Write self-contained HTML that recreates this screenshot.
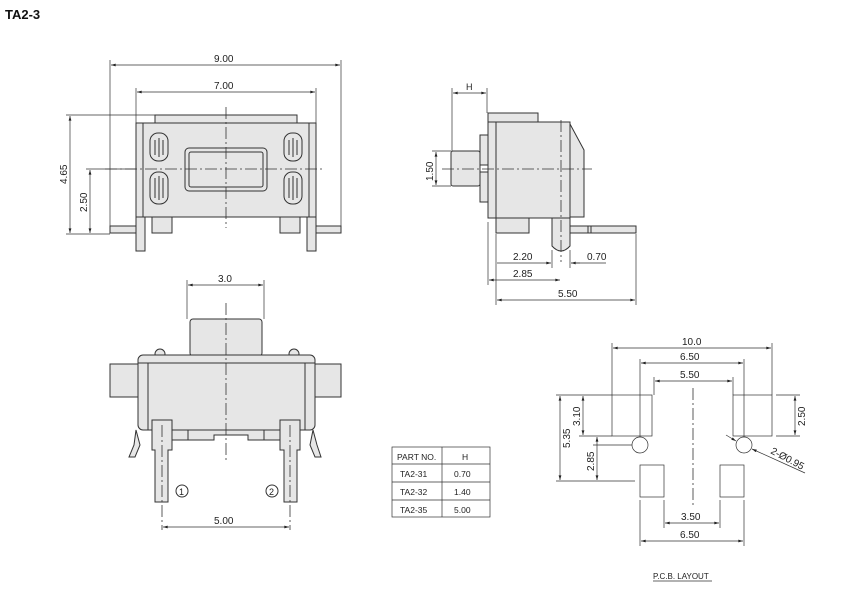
<!DOCTYPE html>
<html><head><meta charset="utf-8"><style>
html,body{margin:0;padding:0;background:#fff;}
svg{display:block;}
text{font-family:"Liberation Sans",sans-serif;font-size:10px;fill:#222;}
</style></head><body>
<svg width="861" height="606" viewBox="0 0 861 606" xmlns="http://www.w3.org/2000/svg">
<defs>
<marker id="a" viewBox="0 0 10 6" refX="10" refY="3" markerWidth="8" markerHeight="4" orient="auto-start-reverse"><path d="M0,0L10,3L0,6z" fill="#222"/></marker>
</defs>
<text x="5" y="19" style="font-size:13px;font-weight:bold;fill:#111">TA2-3</text>

<g stroke="#333" stroke-width="1" fill="#e6e6e6">
<!-- TOP LEFT VIEW -->
<rect x="155" y="115" width="142" height="8"/>
<rect x="136" y="123" width="180" height="94"/>
<line x1="143" y1="123" x2="143" y2="217"/><line x1="309" y1="123" x2="309" y2="217"/>
<rect x="110" y="226" width="27" height="7"/>
<rect x="316" y="226" width="25" height="7"/>
<rect x="136" y="217" width="9" height="34"/>
<rect x="307" y="217" width="9" height="34"/>
<rect x="152" y="217" width="20" height="16"/>
<rect x="280" y="217" width="20" height="16"/>
<rect x="185" y="148" width="82" height="43" rx="4"/>
<rect x="189" y="152" width="74" height="35" rx="2"/>
<rect x="150" y="133" width="18" height="28" rx="8"/>
<rect x="150" y="172" width="18" height="32" rx="8"/>
<rect x="284" y="133" width="18" height="28" rx="8"/>
<rect x="284" y="172" width="18" height="32" rx="8"/>
<path d="M155 140v15M159 138v19M163 140v15M155 178v20M159 176v24M163 178v20M289 140v15M293 138v19M297 140v15M289 178v20M293 176v24M297 178v20" fill="none"/>

<!-- SIDE VIEW -->
<rect x="488" y="113" width="50" height="9"/>
<rect x="488" y="122" width="82" height="96"/>
<line x1="496" y1="122" x2="496" y2="218"/>
<path d="M570 124L584 150V217H570Z"/>
<path d="M480 135h8v30h-8zM480 172h8v30h-8z"/>
<rect x="451" y="151" width="29" height="35" rx="2"/>
<rect x="496" y="218" width="33" height="15"/>
<path d="M552 218V246Q561 256 570 246V218Z"/>
<rect x="570" y="226" width="66" height="7"/>
<line x1="588" y1="226" x2="588" y2="233"/><line x1="591" y1="226" x2="591" y2="233"/>

<!-- FRONT BOTTOM VIEW -->
<rect x="190" y="319" width="72" height="37" rx="3"/>
<circle cx="160" cy="354" r="5"/><circle cx="294" cy="354" r="5"/>
<rect x="110" y="364" width="30" height="33"/>
<rect x="314" y="364" width="27" height="33"/>
<rect x="138" y="355" width="177" height="75" rx="5"/>
<line x1="138" y1="363" x2="315" y2="363"/>
<line x1="148" y1="363" x2="148" y2="430"/><line x1="305" y1="363" x2="305" y2="430"/>
<path d="M170 430h115v10h-37v-5h-34v5h-44z"/>
<line x1="188" y1="430" x2="188" y2="440"/><line x1="264" y1="430" x2="264" y2="440"/>
<path d="M152 420h20v30h-4v52h-13v-52h-3z"/>
<path d="M280 420h20v30h-3v52h-13v-52h-4z"/>
<path d="M136 430l4 15-5 12h-6l5-12z"/>
<path d="M313 430l-3 15 5 12h6l-4-12z"/>
</g>
<g fill="none" stroke="#333" stroke-width="1">
<circle cx="182" cy="491" r="6"/><circle cx="272" cy="491" r="6"/>
</g>
<text x="179" y="495" style="font-size:9px">1</text><text x="269" y="495" style="font-size:9px">2</text>

<!-- centerlines -->
<g stroke="#333" stroke-width="0.8" stroke-dasharray="12,3,2,3" fill="none">
<line x1="105" y1="169" x2="325" y2="169"/>
<line x1="226" y1="107" x2="226" y2="228"/>
<line x1="442" y1="169" x2="592" y2="169"/>
<line x1="561" y1="120" x2="561" y2="262"/>
<line x1="226" y1="303" x2="226" y2="460"/>
<line x1="162" y1="425" x2="162" y2="530"/>
<line x1="290" y1="425" x2="290" y2="530"/>
<line x1="693" y1="388" x2="693" y2="505"/>
</g>

<!-- dimension lines -->
<g stroke="#333" stroke-width="0.7" fill="none">
<path d="M110 60V226M341 60V226M136 88V123M316 88V123M66 115H155M66 234H110M86 169H136"/>
<line x1="111" y1="65" x2="340" y2="65" marker-start="url(#a)" marker-end="url(#a)"/>
<line x1="137" y1="92" x2="315" y2="92" marker-start="url(#a)" marker-end="url(#a)"/>
<line x1="70" y1="116" x2="70" y2="233" marker-start="url(#a)" marker-end="url(#a)"/>
<line x1="90" y1="170" x2="90" y2="233" marker-start="url(#a)" marker-end="url(#a)"/>

<path d="M452 88V151M487 88V113M432 151H451M432 186H451M488 222V285M496 234V305M636 234V305"/>
<line x1="453" y1="93" x2="486" y2="93" marker-start="url(#a)" marker-end="url(#a)"/>
<line x1="436" y1="152" x2="436" y2="185" marker-start="url(#a)" marker-end="url(#a)"/>
<line x1="497" y1="263" x2="551" y2="263" marker-end="url(#a)"/>
<path d="M552 250V268M570 250V268"/>
<line x1="580" y1="263" x2="571" y2="263" marker-end="url(#a)"/><line x1="571" y1="263" x2="606" y2="263"/>
<line x1="489" y1="280" x2="560" y2="280" marker-start="url(#a)" marker-end="url(#a)"/>
<line x1="497" y1="300" x2="635" y2="300" marker-start="url(#a)" marker-end="url(#a)"/>

<path d="M187 280V319M264 280V319"/>
<line x1="188" y1="285" x2="263" y2="285" marker-start="url(#a)" marker-end="url(#a)"/>
<line x1="163" y1="527" x2="289" y2="527" marker-start="url(#a)" marker-end="url(#a)"/>

<!-- PCB -->
<rect x="612" y="395" width="40" height="41"/>
<rect x="733" y="395" width="39" height="41"/>
<rect x="640" y="465" width="24" height="32"/>
<rect x="720" y="465" width="24" height="32"/>
<circle cx="640" cy="445" r="8"/><circle cx="744" cy="445" r="8"/>
<path d="M612 343V395M772 343V395M640 359V437M744 359V437M654 377V395M733 377V395M640 500V546M744 500V546M664 500V528M720 500V528"/>
<path d="M556 395H612M579 436H612M556 481H635M593 445H632M776 395H800M776 436H800"/>
<line x1="613" y1="348" x2="771" y2="348" marker-start="url(#a)" marker-end="url(#a)"/>
<line x1="641" y1="363" x2="743" y2="363" marker-start="url(#a)" marker-end="url(#a)"/>
<line x1="655" y1="381" x2="732" y2="381" marker-start="url(#a)" marker-end="url(#a)"/>
<line x1="665" y1="523" x2="719" y2="523" marker-start="url(#a)" marker-end="url(#a)"/>
<line x1="641" y1="541" x2="743" y2="541" marker-start="url(#a)" marker-end="url(#a)"/>
<line x1="560" y1="396" x2="560" y2="480" marker-start="url(#a)" marker-end="url(#a)"/>
<line x1="583" y1="396" x2="583" y2="435" marker-start="url(#a)" marker-end="url(#a)"/>
<line x1="597" y1="437" x2="597" y2="480" marker-start="url(#a)" marker-end="url(#a)"/>
<line x1="795" y1="396" x2="795" y2="435" marker-start="url(#a)" marker-end="url(#a)"/>
<line x1="726" y1="435" x2="736" y2="441" marker-end="url(#a)"/>
<line x1="805" y1="473" x2="752" y2="449" marker-end="url(#a)"/>

<!-- table -->
<rect x="392" y="447" width="98" height="70"/>
<path d="M442 447V517M392 464H490M392 482H490M392 500H490"/>
<line x1="653" y1="581" x2="712" y2="581"/>
</g>

<g style="font-size:10px">
<text x="214" y="62">9.00</text>
<text x="214" y="89">7.00</text>
<text transform="translate(67,184) rotate(-90)">4.65</text>
<text transform="translate(87,212) rotate(-90)">2.50</text>
<text x="466" y="90" style="font-size:9px">H</text>
<text transform="translate(433,181) rotate(-90)">1.50</text>
<text x="513" y="260">2.20</text>
<text x="587" y="260">0.70</text>
<text x="513" y="277">2.85</text>
<text x="558" y="297">5.50</text>
<text x="218" y="282">3.0</text>
<text x="214" y="524">5.00</text>
<text x="682" y="345">10.0</text>
<text x="680" y="360">6.50</text>
<text x="680" y="378">5.50</text>
<text x="681" y="520">3.50</text>
<text x="680" y="538">6.50</text>
<text transform="translate(570,448) rotate(-90)">5.35</text>
<text transform="translate(580,426) rotate(-90)">3.10</text>
<text transform="translate(594,471) rotate(-90)">2.85</text>
<text transform="translate(805,426) rotate(-90)">2.50</text>
<text transform="translate(770,453) rotate(28)">2-Ø0.95</text>
<text x="653" y="579" style="font-size:8px">P.C.B.  LAYOUT</text>
<text x="397" y="460" style="font-size:8.5px">PART NO.</text>
<text x="462" y="460" style="font-size:8.5px">H</text>
<text x="400" y="477" style="font-size:8.5px">TA2-31</text>
<text x="454" y="477" style="font-size:8.5px">0.70</text>
<text x="400" y="495" style="font-size:8.5px">TA2-32</text>
<text x="454" y="495" style="font-size:8.5px">1.40</text>
<text x="400" y="513" style="font-size:8.5px">TA2-35</text>
<text x="454" y="513" style="font-size:8.5px">5.00</text>
</g>
</svg>
</body></html>
